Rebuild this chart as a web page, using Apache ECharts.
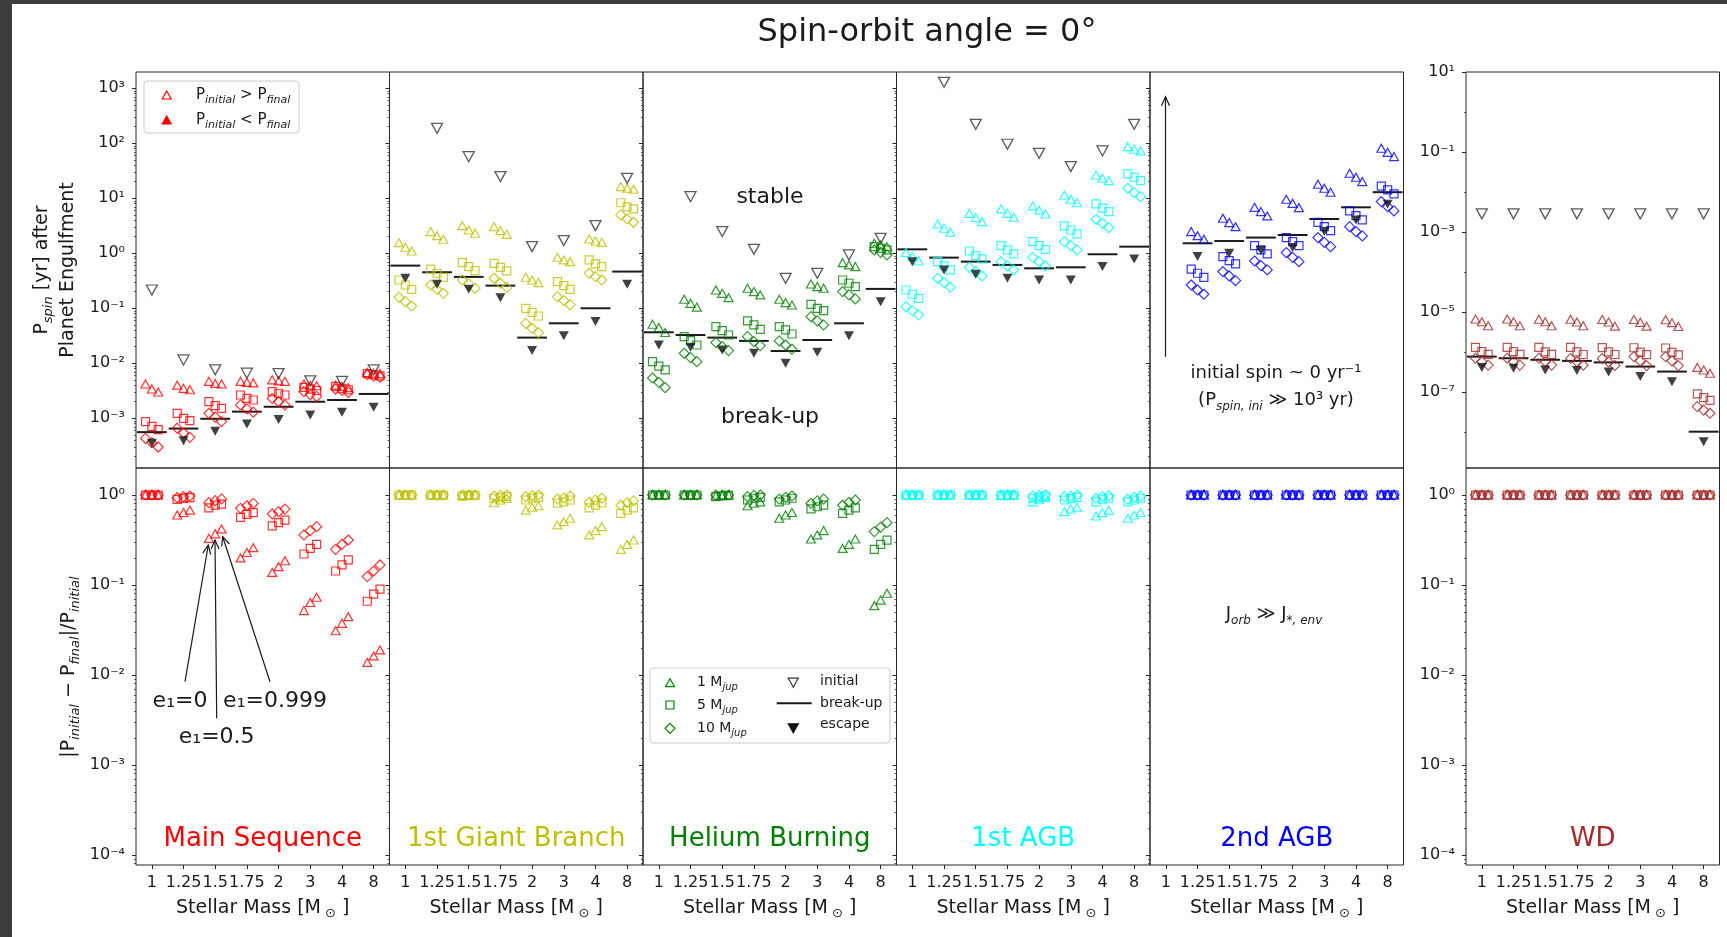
<!DOCTYPE html>
<html>
<head>
<meta charset="utf-8">
<script src="https://cdn.jsdelivr.net/npm/echarts@6/dist/echarts.min.js"></script>
<style>html,body{margin:0;padding:0;background:#fff}#c{width:1727px;height:937px}</style>
</head>
<body>
<div id="c"></div>
<script>
// ---------------- DATA ----------------
const massLabels = ['1', '1.25', '1.5', '1.75', '2', '3', '4', '8'];
const phaseNames = ['Main Sequence', '1st Giant Branch', 'Helium Burning', '1st AGB', '2nd AGB', 'WD'];
const phaseColors = ['#ff0000', '#bfbf00', '#008000', '#00ffff', '#0000ff', '#a52a2a'];

// Top row: P_spin [yr] after engulfment; each mass entry = [e1=0, e1=0.5, e1=0.999]
const msTopM1 = [[4.2e-3,3.4e-3,3.0e-3],[4.0e-3,3.5e-3,3.3e-3],[4.7e-3,4.3e-3,4.2e-3],[4.7e-3,4.5e-3,4.4e-3],[5.0e-3,4.8e-3,4.7e-3],[4.2e-3,4.0e-3,3.9e-3],[4.0e-3,3.8e-3,3.6e-3],[6.8e-3,6.6e-3,6.5e-3]];
const msTopM5 = [[8.7e-4,7.1e-4,6.2e-4],[1.23e-3,1.0e-3,9.1e-4],[2.0e-3,1.7e-3,1.52e-3],[2.65e-3,2.3e-3,2.15e-3],[3.05e-3,2.85e-3,2.65e-3],[3.66e-3,3.4e-3,3.2e-3],[3.8e-3,3.5e-3,3.3e-3],[6.5e-3,6.2e-3,5.9e-3]];
const msTopM10 = [[4.3e-4,3.6e-4,3.0e-4],[6.6e-4,5.4e-4,4.5e-4],[1.23e-3,1.05e-3,8.7e-4],[1.75e-3,1.48e-3,1.29e-3],[2.3e-3,2.0e-3,1.75e-3],[3.05e-3,2.7e-3,2.5e-3],[3.4e-3,3.2e-3,2.95e-3],[6.2e-3,5.9e-3,5.6e-3]];
const msInitial = [0.215, 1.15e-2, 7.6e-3, 6.6e-3, 6.5e-3, 4.8e-3, 4.7e-3, 7.6e-3];
const msBreakup = [5.6e-4, 6.5e-4, 9.8e-4, 1.32e-3, 1.62e-3, 2.0e-3, 2.15e-3, 2.77e-3];
const msEscape = [3.5e-4, 3.9e-4, 5.8e-4, 7.9e-4, 9.5e-4, 1.15e-3, 1.29e-3, 1.58e-3];

const gbTopM1 = [[1.56,1.29,1.10],[2.48,2.09,1.80],[3.18,2.65,2.31],[3.05,2.58,2.21],[0.366,0.327,0.293],[0.845,0.757,0.705],[1.82,1.67,1.58],[16.3,15.2,14.6]];
const gbTopM5 = [[0.327,0.265,0.221],[0.513,0.433,0.366],[0.676,0.573,0.484],[0.658,0.556,0.477],[0.1,0.0845,0.0724],[0.305,0.258,0.221],[0.757,0.64,0.573],[8.3,7.0,6.4]];
const gbTopM10 = [[0.158,0.132,0.110],[0.265,0.221,0.187],[0.327,0.277,0.231],[0.351,0.285,0.238],[0.0533,0.0432,0.0361],[0.163,0.138,0.115],[0.433,0.377,0.327],[4.98,4.2,3.66]];
const gbInitial = [null, 187, 57, 24.8, 1.32, 1.70, 3.18, 23.1];
const gbBreakup = [0.597, 0.452, 0.372, 0.258, 0.0293, 0.0533, 0.1, 0.465];
const gbEscape = [0.351, 0.273, 0.221, 0.156, 0.017, 0.0318, 0.0575, 0.273];

const hebTopM1 = [[0.0513,0.0447,0.0363],[0.146,0.123,0.105],[0.215,0.187,0.156],[0.231,0.201,0.175],[0.146,0.127,0.115],[0.277,0.248,0.231],[0.676,0.614,0.573],[1.52,1.42,1.32]];
const hebTopM5 = [[0.0107,0.0089,0.0076],[0.0305,0.0258,0.0215],[0.0465,0.0393,0.0327],[0.0589,0.0498,0.0415],[0.0465,0.0404,0.0341],[0.118,0.1,0.0908],[0.327,0.285,0.248],[1.32,1.23,1.15]];
const hebTopM10 = [[0.0054,0.0045,0.0036],[0.0152,0.0127,0.0107],[0.0238,0.0201,0.017],[0.0305,0.0248,0.021],[0.0255,0.0215,0.018],[0.0705,0.0589,0.0498],[0.201,0.175,0.148],[1.15,1.04,0.933]];
const hebInitial = [null, 10.7, 2.48, 1.18, 0.351, 0.433, 0.933, 1.87];
const hebBreakup = [0.0366, 0.0327, 0.0293, 0.0255, 0.0167, 0.0265, 0.0533, 0.225];
const hebEscape = [0.0215, 0.0195, 0.0175, 0.0152, 0.01, 0.0158, 0.0318, 0.132];

const agb1TopM1 = [[1.04,0.871,0.724],[3.41,2.85,2.41],[5.33,4.45,3.77],[6.4,5.33,4.52],[7.26,6.14,5.19],[11.5,9.6,8.3],[26.5,23.1,20.9],[86.9,77.8,72.6]];
const agb1TopM5 = [[0.215,0.18,0.152],[0.705,0.589,0.498],[1.10,0.908,0.789],[1.38,1.15,0.973],[1.63,1.38,1.18],[3.14,2.65,2.25],[7.9,6.6,5.7],[27.7,24.1,20.9]];
const agb1TopM10 = [[0.107,0.0908,0.0759],[0.351,0.293,0.241],[0.556,0.465,0.387],[0.705,0.589,0.498],[0.845,0.705,0.589],[1.63,1.38,1.15],[4.15,3.51,2.93],[15.2,12.7,10.7]];
const agb1Initial = [null, 1285, 221, 96, 65.8, 37.7, 72.6, 221];
const agb1Breakup = [1.18, 0.834, 0.705, 0.614, 0.533, 0.556, 0.96, 1.32];
const agb1Escape = [0.705, 0.498, 0.415, 0.351, 0.327, 0.327, 0.573, 0.789];

const agb2TopM1 = [null,[2.48,2.09,1.80],[4.33,3.61,3.05],[6.85,5.73,4.78],[9.6,8.1,6.76],[18.0,15.2,12.9],[28.5,24.1,20.1],[81.1,68.5,57.3]];
const agb2TopM5 = [null,[0.513,0.433,0.366],[0.871,0.736,0.64],[1.38,1.15,0.973],[1.93,1.63,1.38],[3.66,3.05,2.58],[5.89,4.84,4.04],[16.7,14.2,12.0]];
const agb2TopM10 = [null,[0.265,0.215,0.18],[0.465,0.387,0.318],[0.724,0.597,0.498],[1.03,0.845,0.705],[1.93,1.58,1.32],[3.05,2.48,2.07],[8.7,7.05,5.89]];
const agb2Initial = [null, null, null, null, null, null, null, null];
const agb2Breakup = [null, 1.52, 1.67, 1.93, 2.15, 4.2, 6.85, 12.9];
const agb2Escape = [null, 0.871, 1.0, 1.12, 1.27, 2.48, 4.04, 7.8];

const wdTopM1 = [[6.8e-6,5.8e-6,4.6e-6],[6.8e-6,5.8e-6,4.6e-6],[6.7e-6,5.8e-6,4.6e-6],[6.7e-6,5.7e-6,4.6e-6],[6.6e-6,5.7e-6,4.5e-6],[6.6e-6,5.6e-6,4.5e-6],[6.5e-6,5.5e-6,4.4e-6],[4.2e-7,3.6e-7,3.0e-7]];
const wdTopM5 = [[1.33e-6,1.04e-6,8.9e-7],[1.33e-6,1.04e-6,8.9e-7],[1.32e-6,1.03e-6,8.9e-7],[1.32e-6,1.03e-6,8.8e-7],[1.31e-6,1.02e-6,8.8e-7],[1.30e-6,1.01e-6,8.7e-7],[1.28e-6,1.0e-6,8.6e-7],[9.1e-8,7.4e-8,6.3e-8]];
const wdTopM10 = [[7.1e-7,5.85e-7,4.8e-7],[7.1e-7,5.85e-7,4.8e-7],[7.1e-7,5.8e-7,4.8e-7],[7.0e-7,5.8e-7,4.75e-7],[7.0e-7,5.75e-7,4.7e-7],[7.8e-7,6.1e-7,4.65e-7],[7.8e-7,6.1e-7,4.65e-7],[4.4e-8,3.6e-8,3.0e-8]];
const wdInitial = [2.87e-3, 2.87e-3, 2.87e-3, 2.87e-3, 2.87e-3, 2.87e-3, 2.87e-3, 2.87e-3];
const wdBreakup = [7.8e-7, 7.1e-7, 6.5e-7, 6.1e-7, 5.6e-7, 4.4e-7, 3.3e-7, 1.04e-8];
const wdEscape = [4.2e-7, 4.0e-7, 3.6e-7, 3.5e-7, 3.2e-7, 2.5e-7, 1.85e-7, 5.8e-9];

// Bottom row: |P_initial - P_final| / P_initial
const msBotM1 = [[1.0,1.0,1.0],[0.60,0.64,0.68],[0.33,0.37,0.42],[0.20,0.23,0.26],[0.138,0.16,0.186],[0.052,0.064,0.073],[0.031,0.0375,0.0445],[0.0138,0.0163,0.019]];
const msBotM5 = [[1.0,1.0,1.0],[0.895,0.918,0.933],[0.72,0.77,0.79],[0.565,0.61,0.637],[0.453,0.493,0.527],[0.221,0.255,0.283],[0.143,0.167,0.19],[0.066,0.079,0.09]];
const msBotM10 = [[1.0,1.0,1.0],[0.933,0.957,0.975],[0.822,0.865,0.904],[0.711,0.76,0.807],[0.615,0.653,0.698],[0.36,0.402,0.445],[0.249,0.283,0.316],[0.124,0.143,0.167]];

const gbBotM1 = [[1,1,1],[1,1,1],[0.99,1,1],[0.82,0.88,0.92],[0.68,0.73,0.76],[0.465,0.506,0.551],[0.36,0.402,0.445],[0.249,0.283,0.316]];
const gbBotM5 = [[1,1,1],[1,1,1],[0.97,0.99,1],[0.92,0.94,0.96],[0.88,0.92,0.94],[0.81,0.84,0.88],[0.72,0.77,0.82],[0.625,0.68,0.72]];
const gbBotM10 = [[1,1,1],[1,1,1],[1,1,1],[0.97,0.99,1],[0.96,0.98,1],[0.90,0.93,0.975],[0.83,0.88,0.92],[0.77,0.82,0.86]];

const hebBotM1 = [[1,1,1],[1,1,1],[0.98,0.99,1],[0.76,0.81,0.84],[0.551,0.60,0.64],[0.324,0.36,0.402],[0.255,0.283,0.324],[0.059,0.068,0.081]];
const hebBotM5 = [[1,1,1],[1,1,1],[0.96,0.98,0.99],[0.88,0.92,0.94],[0.84,0.88,0.92],[0.70,0.74,0.77],[0.625,0.68,0.72],[0.249,0.283,0.316]];
const hebBotM10 = [[1,1,1],[1,1,1],[1,1,1],[0.96,0.99,1],[0.90,0.94,0.975],[0.81,0.86,0.90],[0.77,0.83,0.88],[0.392,0.438,0.493]];

const agb1BotM1 = [[1,1,1],[1,1,1],[1,1,1],[0.98,0.99,1],[0.84,0.90,0.94],[0.653,0.698,0.73],[0.585,0.637,0.68],[0.551,0.60,0.64]];
const agb1BotM5 = [[1,1,1],[1,1,1],[1,1,1],[0.99,1,1],[0.92,0.94,0.97],[0.88,0.91,0.94],[0.84,0.90,0.92],[0.84,0.88,0.92]];
const agb1BotM10 = [[1,1,1],[1,1,1],[1,1,1],[1,1,1],[0.97,0.99,1],[0.96,0.97,1],[0.92,0.96,0.98],[0.90,0.94,0.97]];

const agb2BotM1 = [null,[1,1,1],[1,1,1],[1,1,1],[1,1,1],[1,1,1],[1,1,1],[1,1,1]];
const agb2BotM5 = [null,[1,1,1],[1,1,1],[1,1,1],[1,1,1],[1,1,1],[1,1,1],[1,1,1]];
const agb2BotM10 = [null,[1,1,1],[1,1,1],[1,1,1],[1,1,1],[1,1,1],[1,1,1],[1,1,1]];

const wdBotM1 = [[1,1,1],[1,1,1],[1,1,1],[1,1,1],[1,1,1],[1,1,1],[1,1,1],[1,1,1]];
const wdBotM5 = [[1,1,1],[1,1,1],[1,1,1],[1,1,1],[1,1,1],[1,1,1],[1,1,1],[1,1,1]];
const wdBotM10 = [[1,1,1],[1,1,1],[1,1,1],[1,1,1],[1,1,1],[1,1,1],[1,1,1],[1,1,1]];

const phases = [
  { top: [msTopM1, msTopM5, msTopM10], init: msInitial, brk: msBreakup, esc: msEscape, bot: [msBotM1, msBotM5, msBotM10] },
  { top: [gbTopM1, gbTopM5, gbTopM10], init: gbInitial, brk: gbBreakup, esc: gbEscape, bot: [gbBotM1, gbBotM5, gbBotM10] },
  { top: [hebTopM1, hebTopM5, hebTopM10], init: hebInitial, brk: hebBreakup, esc: hebEscape, bot: [hebBotM1, hebBotM5, hebBotM10] },
  { top: [agb1TopM1, agb1TopM5, agb1TopM10], init: agb1Initial, brk: agb1Breakup, esc: agb1Escape, bot: [agb1BotM1, agb1BotM5, agb1BotM10] },
  { top: [agb2TopM1, agb2TopM5, agb2TopM10], init: agb2Initial, brk: agb2Breakup, esc: agb2Escape, bot: [agb2BotM1, agb2BotM5, agb2BotM10] },
  { top: [wdTopM1, wdTopM5, wdTopM10], init: wdInitial, brk: wdBreakup, esc: wdEscape, bot: [wdBotM1, wdBotM5, wdBotM10] }
];

// ---------------- LAYOUT ----------------
const FONT = 'DejaVu Sans';
const TXT = '#1a1a1a';
const panelLeft = [136, 389.5, 643, 896.5, 1150, 1466];
const panelW = 253.5;
const topY = 72, topH = 396, botY = 468, botH = 397;
const topRange = [-3.904, 3.296], wdTopRange = [-8.89, 1.001], botRange = [-4.111, 0.3];
const eOffsets = [-0.2, 0, 0.2];

const supMap = {'0':'⁰','1':'¹','2':'²','3':'³','4':'⁴','5':'⁵','6':'⁶','7':'⁷','8':'⁸','9':'⁹','-':'⁻'};
function pow10Label(v) { const n = Math.round(v); return '10' + String(n).split('').map(c => supMap[c]).join(''); }
function intsIn(r) { const a = []; for (let n = Math.ceil(r[0]); n <= Math.floor(r[1]); n++) a.push(n); return a; }
function minorsIn(r) { const a = []; for (let n = Math.floor(r[0]); n <= Math.ceil(r[1]); n++) for (let k = 2; k <= 9; k++) { const v = n + Math.log10(k); if (v > r[0] && v < r[1]) a.push(v); } return a; }
function tripletPoints(arr) { const out = []; arr.forEach((t, i) => { if (!t) return; t.forEach((v, j) => { if (v != null) out.push([i + eOffsets[j], Math.log10(v)]); }); }); return out; }
function singlePoints(arr) { const out = []; arr.forEach((v, i) => { if (v != null) out.push([i, Math.log10(v)]); }); return out; }

const option = { animation: false, backgroundColor: '#ffffff', grid: [], xAxis: [], yAxis: [], series: [], graphic: { elements: [] } };

const massTicks = [0, 1, 2, 3, 4, 5, 6, 7];
const markerDefs = [
  { symbol: 'triangle', size: [9, 8] },
  { symbol: 'rect', size: [8, 8] },
  { symbol: 'diamond', size: [10, 10] }
];

function addPanel(p, row) {
  const left = panelLeft[p], top = row ? botY : topY, h = row ? botH : topH;
  const range = row ? botRange : (p === 5 ? wdTopRange : topRange);
  const labeled = (p === 0 || p === 5);
  const major = row ? intsIn(botRange) : (p === 5 ? [-7, -5, -3, -1, 1] : intsIn(topRange));
  const minor = row ? minorsIn(botRange) : (p === 5 ? [-8, -6, -4, -2, 0] : minorsIn(topRange));
  const gi = option.grid.length;
  option.grid.push({ left: left, top: top, width: panelW, height: h, show: true, borderColor: '#262626', borderWidth: 1, backgroundColor: 'rgba(0,0,0,0)' });
  option.xAxis.push({
    gridIndex: gi, type: 'value', min: -0.5, max: 7.5, position: 'bottom',
    axisLine: { show: false, onZero: false }, splitLine: { show: false },
    axisTick: row ? { show: true, customValues: massTicks, length: 4, lineStyle: { color: '#262626' } } : { show: false },
    axisLabel: row ? { show: true, customValues: massTicks, formatter: v => massLabels[Math.round(v)], fontSize: 16, fontFamily: FONT, color: TXT, margin: 10 } : { show: false },
    name: row ? '{n|Stellar Mass [M}{s| ⊙}{n| ]}' : '', nameLocation: 'middle', nameGap: 31,
    nameTextStyle: { fontSize: 19, fontFamily: FONT, color: TXT, rich: { n: { fontSize: 19, fontFamily: FONT, color: TXT, lineHeight: 24 }, s: { fontSize: 13, fontFamily: FONT, color: TXT, verticalAlign: 'bottom' } } }
  });
  option.yAxis.push({
    gridIndex: gi, type: 'value', min: range[0], max: range[1], position: 'left',
    axisLine: { show: false, onZero: false }, splitLine: { show: false },
    axisTick: { show: true, customValues: major, length: 4, lineStyle: { color: '#262626' } },
    axisLabel: labeled ? { show: true, customValues: major, formatter: pow10Label, fontSize: 16, fontFamily: FONT, color: TXT, margin: 11 } : { show: false }
  });
  // overlay grid for minor ticks
  option.grid.push({ left: left, top: top, width: panelW, height: h, show: false });
  option.xAxis.push({ gridIndex: gi + 1, type: 'value', min: -0.5, max: 7.5, show: false, axisLine: { onZero: false } });
  option.yAxis.push({
    gridIndex: gi + 1, type: 'value', min: range[0], max: range[1], position: 'left',
    axisLine: { show: false, onZero: false }, splitLine: { show: false }, axisLabel: { show: false },
    axisTick: { show: true, customValues: minor, length: 2, lineStyle: { color: '#333', width: 0.8 } }
  });
  return gi;
}

const base = { type: 'scatter', silent: true, emphasis: { disabled: true }, animation: false };

phases.forEach((ph, p) => {
  const col = phaseColors[p];
  // top panel
  let gi = addPanel(p, 0);
  ph.top.forEach((arr, k) => {
    option.series.push(Object.assign({}, base, {
      xAxisIndex: gi, yAxisIndex: gi, symbol: markerDefs[k].symbol, symbolSize: markerDefs[k].size,
      itemStyle: { color: 'rgba(0,0,0,0)', borderColor: col, borderWidth: 1.2 }, data: tripletPoints(arr)
    }));
  });
  option.series.push(Object.assign({}, base, {
    xAxisIndex: gi, yAxisIndex: gi, symbol: 'triangle', symbolRotate: 180, symbolSize: [11, 10],
    itemStyle: { color: 'rgba(0,0,0,0)', borderColor: '#333', borderWidth: 1.3 }, data: singlePoints(ph.init)
  }));
  option.series.push({
    type: 'custom', xAxisIndex: gi, yAxisIndex: gi, silent: true,
    renderItem: (params, api) => {
      const x = api.value(0), y = api.value(1);
      const a = api.coord([x - 0.47, y]), b = api.coord([x + 0.47, y]);
      return { type: 'line', shape: { x1: a[0], y1: a[1], x2: b[0], y2: b[1] }, style: { stroke: '#1a1a1a', lineWidth: 2 } };
    },
    data: singlePoints(ph.brk)
  });
  option.series.push(Object.assign({}, base, {
    xAxisIndex: gi, yAxisIndex: gi, symbol: 'triangle', symbolRotate: 180, symbolSize: [10, 9],
    itemStyle: { color: '#111' }, data: singlePoints(ph.esc)
  }));
  // bottom panel
  gi = addPanel(p, 1);
  ph.bot.forEach((arr, k) => {
    option.series.push(Object.assign({}, base, {
      xAxisIndex: gi, yAxisIndex: gi, symbol: markerDefs[k].symbol, symbolSize: markerDefs[k].size,
      itemStyle: { color: 'rgba(0,0,0,0)', borderColor: col, borderWidth: 1.2 }, data: tripletPoints(arr)
    }));
  });
});

// ---------------- GRAPHICS (annotations) ----------------
const el = option.graphic.elements;
function txt(x, y, text, size, color, align, extra) {
  return Object.assign({ type: 'text', x: x, y: y, z: 100, silent: true,
    style: { text: text, fontSize: size, fontFamily: FONT, fill: color || TXT, align: align || 'center', verticalAlign: 'middle' } }, extra || {});
}
function richTxt(x, y, text, size, subSize, align, rotation) {
  return { type: 'text', x: x, y: y, z: 100, silent: true, rotation: rotation || 0,
    style: { text: text, fontSize: size, fontFamily: FONT, fill: TXT, align: align || 'center', verticalAlign: 'middle',
      rich: { n: { fontSize: size, fontFamily: FONT, fill: TXT, lineHeight: size + 7 },
              s: { fontSize: subSize, fontFamily: FONT, fontStyle: 'italic', fill: TXT, verticalAlign: 'bottom' } } } };
}
function poly(points, fill, stroke) { return { type: 'polygon', z: 100, silent: true, shape: { points: points }, style: { fill: fill, stroke: stroke, lineWidth: 1.2 } }; }
function upTri(x, y, fill, stroke) { return poly([[x, y - 4], [x + 4.5, y + 4], [x - 4.5, y + 4]], fill, stroke); }
function downTri(x, y, fill, stroke) { return poly([[x - 5, y - 4.5], [x + 5, y - 4.5], [x, y + 4.5]], fill, stroke); }
function arrow(x1, y1, x2, y2) {
  const dx = x2 - x1, dy = y2 - y1, L = Math.hypot(dx, dy), ux = dx / L, uy = dy / L;
  const hx = x2 - ux * 9, hy = y2 - uy * 9, px = -uy * 4, py = ux * 4;
  el.push({ type: 'line', z: 100, silent: true, shape: { x1: x1, y1: y1, x2: x2, y2: y2 }, style: { stroke: '#1a1a1a', lineWidth: 1.2 } });
  el.push({ type: 'polyline', z: 100, silent: true, shape: { points: [[hx + px, hy + py], [x2, y2], [hx - px, hy - py]] }, style: { stroke: '#1a1a1a', lineWidth: 1.2, fill: 'none' } });
}

// frame strips of the screenshot
el.push({ type: 'rect', z: 100, silent: true, shape: { x: 0, y: 0, width: 12, height: 937 }, style: { fill: '#3c3c3c' } });
el.push({ type: 'rect', z: 100, silent: true, shape: { x: 0, y: 0, width: 1727, height: 4 }, style: { fill: '#3c3c3c' } });

// title
el.push(txt(927, 33, 'Spin-orbit angle = 0°', 32));

// y labels
el.push(richTxt(55, 270, '{n|P}{s|spin}{n| [yr] after}\n{n|Planet Engulfment}', 19, 13, 'center', Math.PI / 2));
el.push(richTxt(69, 667, '{n||P}{s|initial}{n| − P}{s|final}{n||/P}{s|initial}', 19, 13, 'center', Math.PI / 2));

// phase names
phaseNames.forEach((n, p) => el.push(txt(panelLeft[p] + panelW / 2, 839, n, 26, phaseColors[p])));

// legend top-left
el.push({ type: 'rect', z: 100, silent: true, shape: { x: 144, y: 81, width: 155, height: 52, r: 3 }, style: { fill: '#ffffff', stroke: '#cccccc', lineWidth: 1 } });
el.push(upTri(166.7, 95, 'none', '#ff0000'));
el.push(upTri(166.7, 120, '#ff0000', '#ff0000'));
el.push(richTxt(196, 95, '{n|P}{s|initial}{n| > P}{s|final}', 15, 11, 'left'));
el.push(richTxt(196, 120, '{n|P}{s|initial}{n| < P}{s|final}', 15, 11, 'left'));

// legend in Helium Burning bottom panel
el.push({ type: 'rect', z: 100, silent: true, shape: { x: 650, y: 668, width: 240, height: 75, r: 3 }, style: { fill: '#ffffff', stroke: '#cccccc', lineWidth: 1 } });
el.push(upTri(670, 682.7, 'none', '#008000'));
el.push({ type: 'rect', z: 100, silent: true, shape: { x: 666, y: 701, width: 8, height: 8 }, style: { fill: 'none', stroke: '#008000', lineWidth: 1.2 } });
el.push(poly([[670, 723.3], [675, 728.3], [670, 733.3], [665, 728.3]], 'none', '#008000'));
el.push(richTxt(697, 682, '{n|1 M}{s|jup}', 14, 10, 'left'));
el.push(richTxt(697, 705, '{n|5 M}{s|jup}', 14, 10, 'left'));
el.push(richTxt(697, 728, '{n|10 M}{s|jup}', 14, 10, 'left'));
el.push(downTri(793.3, 682.7, 'none', '#333'));
el.push({ type: 'line', z: 100, silent: true, shape: { x1: 776.7, y1: 703.3, x2: 811.7, y2: 703.3 }, style: { stroke: '#1a1a1a', lineWidth: 2 } });
el.push(downTri(793.3, 728.3, '#111', '#111'));
el.push(txt(820, 681, 'initial', 14, TXT, 'left'));
el.push(txt(820, 703, 'break-up', 14, TXT, 'left'));
el.push(txt(820, 724, 'escape', 14, TXT, 'left'));

// helium burning annotations
el.push(txt(770, 197, 'stable', 22));
el.push(txt(770, 417, 'break-up', 22));

// 2nd AGB annotations
arrow(1165.5, 356.7, 1165.5, 96.7);
el.push(txt(1276, 373, 'initial spin ~ 0 yr⁻¹', 18));
el.push(richTxt(1276, 400, '{n|(P}{s|spin, ini}{n| ≫ 10³ yr)}', 18, 12, 'center'));
el.push(richTxt(1274, 614, '{n|J}{s|orb}{n| ≫ J}{s|*, env}', 18, 12, 'center'));

// main sequence eccentricity arrows
arrow(185, 681.7, 208.3, 545);
arrow(216.7, 718.3, 215, 540);
arrow(270, 681.7, 222.7, 536.7);
el.push(txt(180, 701, 'e₁=0', 22));
el.push(txt(275, 701, 'e₁=0.999', 22));
el.push(txt(216.7, 737, 'e₁=0.5', 22));

const chart = echarts.init(document.getElementById('c'), null, { renderer: 'canvas' });
chart.setOption(option);
</script>
</body>
</html>
